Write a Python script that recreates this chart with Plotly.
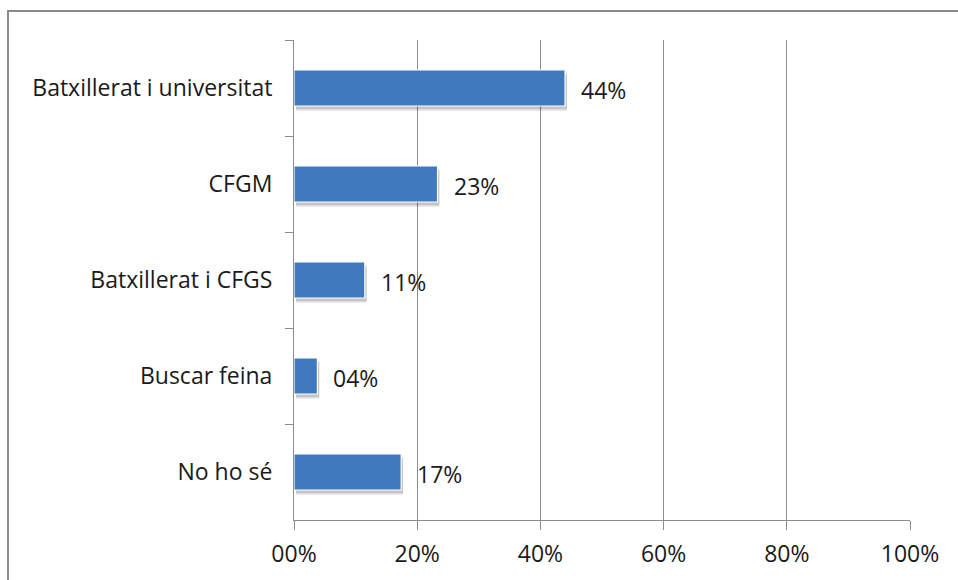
import plotly.graph_objects as go

categories = ["Batxillerat i universitat", "CFGM", "Batxillerat i CFGS", "Buscar feina", "No ho sé"]
values = [0.44, 0.233, 0.115, 0.038, 0.174]
value_labels = ["44%", "23%", "11%", "04%", "17%"]
tick_vals = [0, 0.2, 0.4, 0.6, 0.8, 1.0]
tick_text = ["00%", "20%", "40%", "60%", "80%", "100%"]

W, H = 958, 580
L, T = 294, 40
R = W - 910
B = H - 520
pw, ph = W - L - R, H - T - B

def px_x(x):
    return (x - L) / pw

def px_y(y):
    return 1 - (y - T) / ph

FONT = "'Open Sans', sans-serif"
FS = 23
BAR_W = 0.375
GRID = "#8c8c8c"

fig = go.Figure()
# soft shadow
for k, a in [(0.05, 0.10), (0.035, 0.14)]:
    fig.add_trace(go.Bar(
        y=categories, x=values, orientation="h", base=0.003,
        width=BAR_W, offset=-BAR_W / 2 + k,
        marker=dict(color=f"rgba(0,0,0,{a})", line=dict(width=0)),
        hoverinfo="skip", showlegend=False,
    ))
fig.add_trace(go.Bar(
    y=categories, x=values, orientation="h",
    width=BAR_W, offset=-BAR_W / 2,
    marker=dict(color="#4179BE", line=dict(color="#ffffff", width=1.2)),
    showlegend=False,
))

for c, v, t in zip(categories, values, value_labels):
    fig.add_annotation(x=v, y=c, text=t, xanchor="left", yanchor="middle",
                       xshift=14, yshift=-2, showarrow=False,
                       font=dict(family=FONT, size=FS, color="#1a1a1a"))

# outer frame (left and top edges visible)
x0, y0 = px_x(8), px_y(11)
yb = px_y(600)
xr = px_x(980)
fig.add_shape(type="path", xref="paper", yref="paper",
              path=f"M {x0} {yb} L {x0} {y0} L {xr} {y0}",
              line=dict(color="#8a8a8a", width=2), layer="below")

fig.update_layout(
    width=W, height=H,
    margin=dict(l=L, r=R, t=T, b=B, pad=0, autoexpand=False),
    paper_bgcolor="white", plot_bgcolor="white",
    barmode="overlay",
    font=dict(family=FONT, size=FS, color="#1a1a1a"),
    xaxis=dict(range=[0, 1], tickvals=tick_vals, ticktext=tick_text,
               showgrid=True, gridcolor=GRID, gridwidth=1,
               showline=True, linecolor=GRID, linewidth=1,
               ticks="outside", ticklen=9, tickcolor=GRID,
               ticklabelstandoff=4, zeroline=False, fixedrange=True,
               automargin=False),
    yaxis=dict(autorange="reversed", showgrid=False,
               showline=True, linecolor=GRID, linewidth=1,
               ticks="outside", ticklen=8, tickcolor=GRID,
               tickson="boundaries", ticklabelstandoff=16,
               zeroline=False, automargin=False),
)

fig.write_html(
    "out.html",
    config={"displayModeBar": False},
    post_script="document.body.style.margin='0';"
                "document.documentElement.style.overflow='hidden';"
                "document.body.style.overflow='hidden';",
)
